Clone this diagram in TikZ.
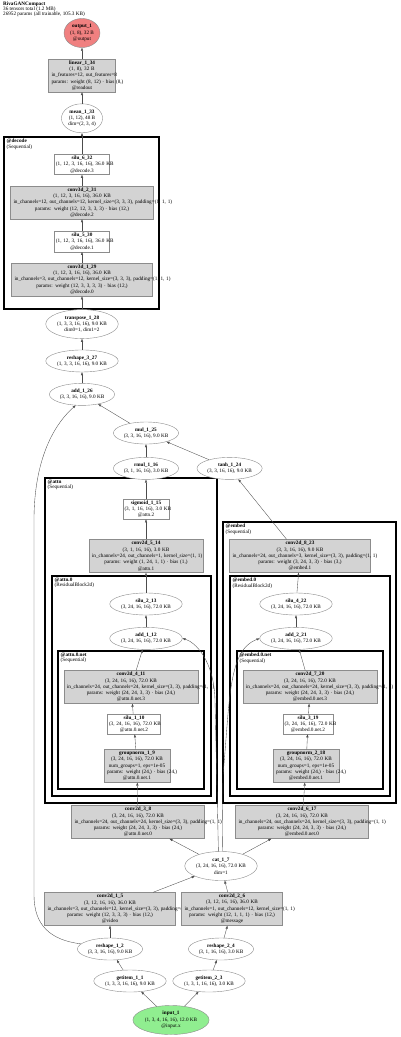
\documentclass[tikz,border=0pt]{standalone}
\usepackage{fontspec}
\setmainfont{Liberation Serif}
\usepackage{xcolor}
\usepackage{tikz}
\usetikzlibrary{arrows.meta,positioning,shapes.geometric}
\definecolor{modgray}{HTML}{D3D3D3}
\definecolor{outred}{HTML}{F08080}
\definecolor{ingreen}{HTML}{90EE90}
\definecolor{linegray}{HTML}{8C8C8C}
\newcommand{\gvfont}{\fontsize{5.2}{6.3}\selectfont}

\begin{document}
\begin{tikzpicture}[x=1pt, y=1pt,
  node distance=11pt,
  tensor/.style={ellipse, draw=linegray, fill=white, align=center,
                 inner sep=0.8pt, minimum height=22pt, font=\gvfont},
  tensorthree/.style={tensor, minimum height=29pt},
  modbox/.style={rectangle, draw=linegray, fill=modgray, align=center,
                 inner xsep=3pt, inner ysep=1.6pt, text width=#1, font=\gvfont},
  fnbox/.style={modbox=#1, fill=white, inner xsep=1.5pt},
  cluster/.style={draw=black, line width=1.6pt},
  clabel/.style={anchor=north west, align=left, inner sep=0pt,
                 font=\fontsize{5.2}{5.3}\selectfont},
  arr/.style={-{Triangle[length=3pt, width=2.2pt]}, black!70, line width=0.35pt}]
\useasboundingbox (0,0) rectangle (400,-1037);
\node[anchor=north west, align=left, inner sep=0pt, font=\fontsize{5.2}{5}\selectfont]
  (title) at (3,-1.5) {\textbf{RivaGANCompact}\\36 tensors total (1.2 MB)\\26952 params (all trainable, 105.3 KB)};

\draw[cluster] (4,-137) rectangle (159,-309);
\draw[cluster] (45,-478) rectangle (217,-803);
\draw[cluster] (52,-576) rectangle (211,-796);
\draw[cluster] (58,-651) rectangle (204,-789);
\draw[cluster] (223,-522) rectangle (396,-803);
\draw[cluster] (230,-576) rectangle (390,-796);
\draw[cluster] (237,-651) rectangle (383,-789);
\node[clabel] (decodelbl) at (6.5,-139) {\textbf{@decode}\\(Sequential)};
\node[clabel] (attnlbl) at (47.5,-480) {\textbf{@attn}\\(Sequential)};
\node[clabel] (attnzerolbl) at (54.5,-578) {\textbf{@attn.0}\\(ResidualBlock2d)};
\node[clabel] (attnnetlbl) at (60.5,-653) {\textbf{@attn.0.net}\\(Sequential)};
\node[clabel] (embedlbl) at (225.5,-524) {\textbf{@embed}\\(Sequential)};
\node[clabel] (embedzerolbl) at (232.5,-578) {\textbf{@embed.0}\\(ResidualBlock2d)};
\node[clabel] (embednetlbl) at (239.5,-653) {\textbf{@embed.0.net}\\(Sequential)};

\node[tensorthree, fill=outred] (output) at (82,-33) {\textbf{output\_1}\\(1, 8), 32 B\\@output};
\node[modbox=61pt, below=of output] (linear) {\textbf{linear\_1\_34}\\\mbox{(1, 8), 32 B}\\\mbox{in\_features=12, out\_features=8}\\\mbox{params: weight (8, 12) · bias (8,)}\\@readout};
\node[tensorthree, below=11.5pt of linear] (mean) {\textbf{mean\_1\_33}\\(1, 12), 48 B\\dim=(2, 3, 4)};
\node[fnbox=52pt, below=21pt of mean] (silusix) {\textbf{silu\_6\_32}\\\mbox{(1, 12, 3, 16, 16), 36.0 KB}\\@decode.3};
\node[modbox=137pt, below=of silusix] (convthreedtwo) {\textbf{conv3d\_2\_31}\\\mbox{(1, 12, 3, 16, 16), 36.0 KB}\\\mbox{in\_channels=12, out\_channels=12, kernel\_size=(3, 3, 3), padding=(1, 1, 1)}\\\mbox{params: weight (12, 12, 3, 3, 3) · bias (12,)}\\@decode.2};
\node[fnbox=52pt, below=12pt of convthreedtwo] (silufive) {\textbf{silu\_5\_30}\\\mbox{(1, 12, 3, 16, 16), 36.0 KB}\\@decode.1};
\node[modbox=135pt, below=of silufive] (convthreedone) {\textbf{conv3d\_1\_29}\\\mbox{(1, 12, 3, 16, 16), 36.0 KB}\\\mbox{in\_channels=3, out\_channels=12, kernel\_size=(3, 3, 3), padding=(1, 1, 1)}\\\mbox{params: weight (12, 3, 3, 3, 3) · bias (12,)}\\@decode.0};
\node[tensorthree, below=13pt of convthreedone] (transpose) {\textbf{transpose\_1\_28}\\(1, 3, 3, 16, 16), 9.0 KB\\dim0=1, dim1=2};
\node[tensor, below=of transpose] (reshapethree) {\textbf{reshape\_3\_27}\\(1, 3, 3, 16, 16), 9.0 KB};
\node[tensor, below=of reshapethree] (addsix) {\textbf{add\_1\_26}\\(3, 3, 16, 16), 9.0 KB};

\node[tensor] (mul) at (146,-433) {\textbf{mul\_1\_25}\\(3, 3, 16, 16), 9.0 KB};
\node[tensor, below=13pt of mul] (rmul) {\textbf{rmul\_1\_16}\\(3, 1, 16, 16), 3.0 KB};
\node[tensor, right=18pt of rmul] (tanh) {\textbf{tanh\_1\_24}\\(3, 3, 16, 16), 9.0 KB};
\node[fnbox=43pt, below=19pt of rmul] (sigmoid) {\textbf{sigmoid\_1\_15}\\\mbox{(3, 1, 16, 16), 3.0 KB}\\@attn.2};
\node[modbox=108pt, below=20pt of sigmoid] (convfive) {\textbf{conv2d\_5\_14}\\\mbox{(3, 1, 16, 16), 3.0 KB}\\\mbox{in\_channels=24, out\_channels=1, kernel\_size=(1, 1)}\\\mbox{params: weight (1, 24, 1, 1) · bias (1,)}\\@attn.1};
\node[tensor, below=20pt of convfive] (silutwo) {\textbf{silu\_2\_13}\\(3, 24, 16, 16), 72.0 KB};
\node[tensor, below=12pt of silutwo] (addtwelve) {\textbf{add\_1\_12}\\(3, 24, 16, 16), 72.0 KB};
\node[modbox=128pt] (convfour) at (131,-687) {\textbf{conv2d\_4\_11}\\\mbox{(3, 24, 16, 16), 72.0 KB}\\\mbox{in\_channels=24, out\_channels=24, kernel\_size=(3, 3), padding=(1, 1)}\\\mbox{params: weight (24, 24, 3, 3) · bias (24,)}\\@attn.0.net.3};
\node[fnbox=50pt] (siluone) at (134,-724) {\textbf{silu\_1\_10}\\\mbox{(3, 24, 16, 16), 72.0 KB}\\@attn.0.net.2};
\node[modbox=60pt] (gnone) at (137,-766) {\textbf{groupnorm\_1\_9}\\\mbox{(3, 24, 16, 16), 72.0 KB}\\\mbox{num\_groups=1, eps=1e-05}\\\mbox{params: weight (24,) · bias (24,)}\\@attn.0.net.1};
\node[modbox=127pt] (convthree) at (138,-822) {\textbf{conv2d\_3\_8}\\\mbox{(3, 24, 16, 16), 72.0 KB}\\\mbox{in\_channels=24, out\_channels=24, kernel\_size=(3, 3), padding=(1, 1)}\\\mbox{params: weight (24, 24, 3, 3) · bias (24,)}\\@attn.0.net.0};

\node[modbox=135pt] (conveight) at (300,-556) {\textbf{conv2d\_8\_23}\\\mbox{(3, 3, 16, 16), 9.0 KB}\\\mbox{in\_channels=24, out\_channels=3, kernel\_size=(3, 3), padding=(1, 1)}\\\mbox{params: weight (3, 24, 3, 3) · bias (3,)}\\@embed.1};
\node[tensor] (silufour) at (296,-604) {\textbf{silu\_4\_22}\\(3, 24, 16, 16), 72.0 KB};
\node[tensor, below=12pt of silufour] (addtwentyone) {\textbf{add\_2\_21}\\(3, 24, 16, 16), 72.0 KB};
\node[modbox=128pt] (convseven) at (310,-687) {\textbf{conv2d\_7\_20}\\\mbox{(3, 24, 16, 16), 72.0 KB}\\\mbox{in\_channels=24, out\_channels=24, kernel\_size=(3, 3), padding=(1, 1)}\\\mbox{params: weight (24, 24, 3, 3) · bias (24,)}\\@embed.0.net.3};
\node[fnbox=47pt] (siluthree) at (308,-724) {\textbf{silu\_3\_19}\\\mbox{(3, 24, 16, 16), 72.0 KB}\\@embed.0.net.2};
\node[modbox=60pt] (gntwo) at (306,-766) {\textbf{groupnorm\_2\_18}\\\mbox{(3, 24, 16, 16), 72.0 KB}\\\mbox{num\_groups=1, eps=1e-05}\\\mbox{params: weight (24,) · bias (24,)}\\@embed.0.net.1};
\node[modbox=127pt] (convsix) at (302,-822) {\textbf{conv2d\_6\_17}\\\mbox{(3, 24, 16, 16), 72.0 KB}\\\mbox{in\_channels=24, out\_channels=24, kernel\_size=(3, 3), padding=(1, 1)}\\\mbox{params: weight (24, 24, 3, 3) · bias (24,)}\\@embed.0.net.0};

\node[tensorthree] (cat) at (221,-866) {\textbf{cat\_1\_7}\\(3, 24, 16, 16), 72.0 KB\\dim=1};
\node[modbox=125pt] (convone) at (110,-909) {\textbf{conv2d\_1\_5}\\\mbox{(3, 12, 16, 16), 36.0 KB}\\\mbox{in\_channels=3, out\_channels=12, kernel\_size=(3, 3), padding=(1, 1)}\\\mbox{params: weight (12, 3, 3, 3) · bias (12,)}\\@video};
\node[modbox=95pt] (convtwo) at (232,-909) {\textbf{conv2d\_2\_6}\\\mbox{(3, 12, 16, 16), 36.0 KB}\\\mbox{in\_channels=1, out\_channels=12, kernel\_size=(1, 1)}\\\mbox{params: weight (12, 1, 1, 1) · bias (12,)}\\@message};
\node[tensor] (reshapeone) at (110,-949) {\textbf{reshape\_1\_2}\\(3, 3, 16, 16), 9.0 KB};
\node[tensor] (reshapetwo) at (221,-949) {\textbf{reshape\_2\_4}\\(3, 1, 16, 16), 3.0 KB};
\node[tensor] (getitemone) at (130,-981) {\textbf{getitem\_1\_1}\\(1, 3, 3, 16, 16), 9.0 KB};
\node[tensor] (getitemtwo) at (209,-981) {\textbf{getitem\_2\_3}\\(1, 3, 1, 16, 16), 3.0 KB};
\node[tensorthree, fill=ingreen] (input) at (171,-1020) {\textbf{input\_1}\\(1, 3, 4, 16, 16), 12.0 KB\\@input.x};

\draw[arr] (input) -- (getitemone);
\draw[arr] (input) -- (getitemtwo);
\draw[arr] (getitemone) -- (reshapeone);
\draw[arr] (getitemtwo) -- (reshapetwo);
\draw[arr] (reshapeone) -- (convone);
\draw[arr] (reshapetwo) -- (convtwo);
\draw[arr] (reshapeone.170) .. controls (50,-940) and (34,-925) .. (34,-895)
  -- (34,-520) .. controls (34,-470) and (48,-430) .. (addsix.240);
\draw[arr] (convone) -- (cat);
\draw[arr] (convtwo) -- (cat);
\draw[arr] (cat) -- (convthree);
\draw[arr] (cat) -- (convsix);
\draw[arr] (cat.100) -- (215,-700) .. controls (214,-660) and (195,-642) .. (addtwelve.east);
\draw[arr] (cat.85) -- (223,-775) .. controls (230,-700) and (228,-650) .. (addtwentyone.west);
\draw[arr] (convthree) -- (gnone);
\draw[arr] (gnone) -- (siluone);
\draw[arr] (siluone) -- (convfour);
\draw[arr] (convfour) -- (addtwelve);
\draw[arr] (addtwelve) -- (silutwo);
\draw[arr] (silutwo) -- (convfive);
\draw[arr] (convfive) -- (sigmoid);
\draw[arr] (sigmoid) -- (rmul);
\draw[arr] (rmul) -- (mul);
\draw[arr] (convsix) -- (gntwo);
\draw[arr] (gntwo) -- (siluthree);
\draw[arr] (siluthree) -- (convseven);
\draw[arr] (convseven) -- (addtwentyone);
\draw[arr] (addtwentyone) -- (silufour);
\draw[arr] (silufour) -- (conveight);
\draw[arr] (conveight) -- (tanh);
\draw[arr] (tanh) -- (mul);
\draw[arr] (mul) -- (addsix);
\draw[arr] (addsix) -- (reshapethree);
\draw[arr] (reshapethree) -- (transpose);
\draw[arr] (transpose) -- (convthreedone);
\draw[arr] (convthreedone) -- (silufive);
\draw[arr] (silufive) -- (convthreedtwo);
\draw[arr] (convthreedtwo) -- (silusix);
\draw[arr] (silusix) -- (mean);
\draw[arr] (mean) -- (linear);
\draw[arr] (linear) -- (output);
\end{tikzpicture}
\end{document}
